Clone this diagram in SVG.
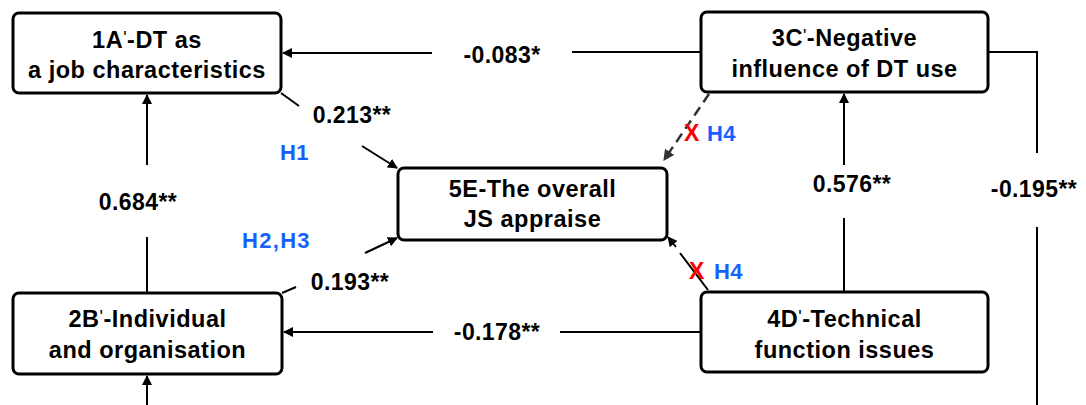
<svg xmlns="http://www.w3.org/2000/svg" width="1086" height="405" viewBox="0 0 1086 405">
<defs>
<style>
.box{fill:#fff;stroke:#000;stroke-width:3}
.t{font-family:"Liberation Sans",Arial,sans-serif;font-weight:bold;font-size:23.5px;letter-spacing:0.5px;fill:#000;text-anchor:middle}
.lbl{font-family:"Liberation Sans",Arial,sans-serif;font-weight:bold;font-size:23px;letter-spacing:0.4px;fill:#000;text-anchor:middle}
.h{font-family:"Liberation Sans",Arial,sans-serif;font-weight:bold;font-size:22px;letter-spacing:0.4px;fill:#1560ff}
.x{font-family:"Liberation Sans",Arial,sans-serif;font-weight:bold;font-size:23px;fill:#ff0000}
.pr{font-weight:normal;font-size:18px}
.ln{fill:none;stroke:#000;stroke-width:2}
.dash{fill:none;stroke:#333;stroke-width:2.5;stroke-dasharray:10 6}
</style>
<marker id="ah" viewBox="0 0 10 10" refX="9" refY="5" markerWidth="5" markerHeight="5" orient="auto" markerUnits="strokeWidth">
<path d="M0,0 L10,5 L0,10 z" fill="#000"/>
</marker>
<marker id="ahd" viewBox="0 0 10 10" refX="9" refY="5" markerWidth="4.4" markerHeight="4.4" orient="auto" markerUnits="strokeWidth">
<path d="M0,0 L10,5 L0,10 z" fill="#333"/>
</marker>
</defs>
<g id="connectors">
<path class="ln" d="M432,53 L283,53" marker-end="url(#ah)"/>
<path class="ln" d="M701,52 L572,52"/>
<path class="ln" d="M433,332 L284,332" marker-end="url(#ah)"/>
<path class="ln" d="M701,332 L560,332"/>
<path class="ln" d="M147,165 L147,95" marker-end="url(#ah)"/>
<path class="ln" d="M147,293 L147,237"/>
<path class="ln" d="M147,405 L147,376" marker-end="url(#ah)"/>
<path class="ln" d="M844,165 L844,94" marker-end="url(#ah)"/>
<path class="ln" d="M844,292 L844,218"/>
<path class="ln" d="M988,52 L1037,52 L1037,153"/>
<path class="ln" d="M1037,227 L1037,405"/>
<path class="ln" d="M281,93 L299,106"/>
<path class="ln" d="M362,146 L397,168" marker-end="url(#ah)"/>
<path class="ln" d="M282,293 L296,287"/>
<path class="ln" d="M365,253 L397,238" marker-end="url(#ah)"/>
<path class="dash" d="M709,94 L664,160" marker-end="url(#ahd)"/>
<path class="ln" d="M708,290 L680,253"/>
<path class="ln" d="M676,247 L668,237" marker-end="url(#ah)"/>
</g>
<g id="labels">
<text class="lbl" x="502" y="63">-0.083*</text>
<text class="lbl" x="497" y="340">-0.178**</text>
<text class="lbl" x="138" y="210">0.684**</text>
<text class="lbl" x="852" y="192">0.576**</text>
<text class="lbl" x="1034" y="197">-0.195**</text>
<text class="lbl" x="352" y="123">0.213**</text>
<text class="lbl" x="350" y="290">0.193**</text>
<text class="h" x="280" y="160">H1</text>
<text class="h" x="242" y="248" style="letter-spacing:1.3px">H2,H3</text>
<text class="x" x="684" y="141">X</text>
<text class="h" x="707" y="141">H4</text>
<text class="x" x="689" y="279">X</text>
<text class="h" x="714" y="279">H4</text>
</g>
<g id="node1A">
<rect class="box" x="13" y="13" width="268" height="80" rx="6"/>
<text class="t" x="147" y="48">1A<tspan class="pr" dy="-4">'</tspan><tspan dy="4">-DT as</tspan></text>
<text class="t" x="147" y="78">a job characteristics</text>
</g>
<g id="node3C">
<rect class="box" x="701" y="12" width="287" height="80" rx="6"/>
<text class="t" x="844.5" y="46">3C<tspan class="pr" dy="-4">'</tspan><tspan dy="4">-Negative</tspan></text>
<text class="t" x="844.5" y="77">influence of DT use</text>
</g>
<g id="node5E">
<rect class="box" x="398" y="168" width="269" height="72" rx="6"/>
<text class="t" x="532.5" y="197">5E-The overall</text>
<text class="t" x="532.5" y="227">JS appraise</text>
</g>
<g id="node2B">
<rect class="box" x="13" y="293" width="269" height="81" rx="6"/>
<text class="t" x="147.5" y="327">2B<tspan class="pr" dy="-4">'</tspan><tspan dy="4">-Individual</tspan></text>
<text class="t" x="147.5" y="358">and organisation</text>
</g>
<g id="node4D">
<rect class="box" x="701" y="292" width="287" height="80" rx="6"/>
<text class="t" x="844.5" y="327">4D<tspan class="pr" dy="-4">'</tspan><tspan dy="4">-Technical</tspan></text>
<text class="t" x="844.5" y="358">function issues</text>
</g>
</svg>
